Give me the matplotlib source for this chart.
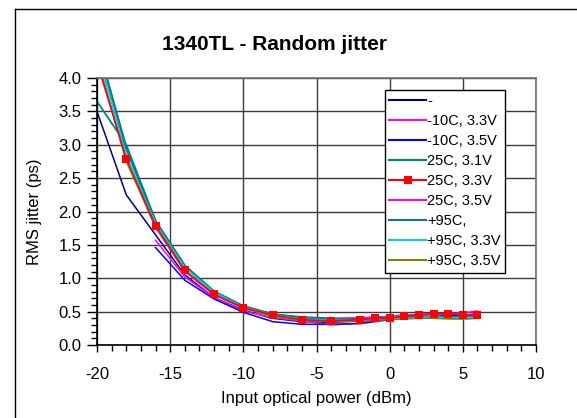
import matplotlib
matplotlib.use("Agg")
import matplotlib.pyplot as plt
from matplotlib.lines import Line2D
import numpy as np

plt.rcParams['font.family'] = ['Liberation Sans', 'DejaVu Sans']

x_full = [-20, -18, -16, -14, -12, -10, -8, -6, -4, -2, -1, 0, 1, 2, 3, 4, 5, 6]
x_from16 = [-16, -14, -12, -10, -8, -6, -4, -2, -1, 0, 1, 2, 3, 4, 5, 6]

m10_31 = [3.50, 2.25, 1.65, 1.05, 0.71, 0.52, 0.40, 0.35, 0.34, 0.36, 0.38, 0.39, 0.41, 0.42, 0.43, 0.44, 0.43, 0.44]
m10_33 = [1.57, 1.02, 0.71, 0.51, 0.41, 0.36, 0.30, 0.33, 0.37, 0.39, 0.42, 0.44, 0.46, 0.46, 0.45, 0.47]
m10_35 = [1.46, 0.97, 0.69, 0.49, 0.35, 0.31, 0.31, 0.32, 0.35, 0.38, 0.40, 0.41, 0.42, 0.43, 0.43, 0.44]
p25_31 = [3.65, 3.00, 1.86, 1.19, 0.80, 0.58, 0.46, 0.42, 0.40, 0.40, 0.41, 0.41, 0.42, 0.42, 0.43, 0.42, 0.42, 0.43]
p25_33 = [4.23, 2.79, 1.79, 1.12, 0.76, 0.56, 0.45, 0.38, 0.36, 0.38, 0.40, 0.40, 0.43, 0.45, 0.47, 0.47, 0.45, 0.45]
p25_35 = [4.30, 2.78, 1.76, 1.10, 0.75, 0.55, 0.44, 0.41, 0.39, 0.41, 0.42, 0.43, 0.45, 0.46, 0.47, 0.47, 0.48, 0.51]
p95_31 = [4.52, 2.95, 1.85, 1.18, 0.80, 0.58, 0.46, 0.40, 0.38, 0.38, 0.39, 0.40, 0.41, 0.41, 0.42, 0.41, 0.40, 0.41]
p95_33 = [4.40, 2.85, 1.82, 1.16, 0.79, 0.57, 0.45, 0.39, 0.37, 0.37, 0.38, 0.39, 0.40, 0.41, 0.42, 0.41, 0.41, 0.42]
p95_35 = [4.30, 2.75, 1.77, 1.11, 0.76, 0.55, 0.43, 0.37, 0.35, 0.36, 0.37, 0.38, 0.39, 0.40, 0.40, 0.39, 0.39, 0.40]

labels = ["-", "-10C, 3.3V", "-10C, 3.5V", "25C, 3.1V", "25C, 3.3V",
          "25C, 3.5V", "+95C,", "+95C, 3.3V", "+95C, 3.5V"]

x_ticks = [-20, -15, -10, -5, 0, 5, 10]
y_ticks = [0.0, 0.5, 1.0, 1.5, 2.0, 2.5, 3.0, 3.5, 4.0]

W, H = 577, 418
fig = plt.figure(figsize=(W / 100, H / 100), dpi=100)
fig.patch.set_facecolor('white')
# outer chart frame (left and top edges visible)
fig.add_artist(Line2D([14.5 / W, 14.5 / W], [0, 1 - 8.5 / H], transform=fig.transFigure,
                      color='black', linewidth=1.0))
fig.add_artist(Line2D([14.5 / W, 1], [1 - 8.5 / H, 1 - 8.5 / H], transform=fig.transFigure,
                      color='black', linewidth=1.0))

ax = fig.add_axes([97 / W, 1 - 345 / H, (536 - 97) / W, (345 - 78) / H])

lw = 1.1
ax.plot(x_full, m10_31, color='#000080', lw=lw, label=labels[0])
ax.plot(x_from16, m10_33, color='#FF00FF', lw=lw, label=labels[1])
ax.plot(x_from16, m10_35, color='#0000FF', lw=lw, label=labels[2])
ax.plot(x_full, p25_31, color='#008080', lw=1.3, label=labels[3])
ax.plot(x_full, p25_35, color='#FF00FF', lw=lw, label=labels[5])
ax.plot(x_full, p95_31, color='#008080', lw=1.8, label=labels[6])
ax.plot(x_full, p95_33, color='#00CCFF', lw=lw, label=labels[7])
ax.plot(x_full, p95_35, color='#808000', lw=lw, label=labels[8])
ax.plot(x_full, p25_33, color='#FF0000', lw=lw, marker='s', markersize=6,
        markeredgewidth=0, label=labels[4])

ax.set_xlim(-20, 10)
ax.set_ylim(0, 4.0)
ax.set_xticks(x_ticks)
ax.set_yticks(y_ticks)
ax.set_xticklabels([str(v) for v in x_ticks])
ax.set_yticklabels([f"{v:.1f}" for v in y_ticks])
ax.set_xticks(np.arange(-20, 11, 1), minor=True)
ax.set_yticks(np.arange(0, 4.01, 0.1), minor=True)
ax.tick_params(axis='x', which='major', direction='out', length=5, width=1,
               labelsize=12, color='black', pad=11)
ax.tick_params(axis='y', which='major', direction='out', length=7, width=1,
               labelsize=12, color='black', pad=4)
ax.tick_params(axis='both', which='minor', direction='out', length=4, width=1, color='black')
ax.grid(True, which='major', color='#3a3a3a', linewidth=1.0)
ax.set_axisbelow(True)
for s in ax.spines.values():
    s.set_color('#707070')
    s.set_linewidth(1.2)
ax.spines['left'].set_color('black')
ax.spines['bottom'].set_color('black')

ax.set_xlabel("Input optical power (dBm)", fontsize=12)
ax.xaxis.set_label_coords((316 - 97) / (536 - 97), -(399 - 345) / (345 - 78), transform=ax.transAxes)
ax.xaxis.label.set_va('center')
ax.set_ylabel("RMS jitter (ps)", fontsize=12)
ax.yaxis.set_label_coords(-(97 - 35) / (536 - 97), 0.5, transform=ax.transAxes)
ax.yaxis.label.set_va('center')

fig.text(274 / W, 1 - 45 / H, "1340TL - Random jitter", fontsize=15,
         fontweight='bold', ha='center', va='center')

h, l = ax.get_legend_handles_labels()
order = [labels.index(t) for t in l]
pairs = sorted(zip(order, h, l))
leg = ax.legend([p[1] for p in pairs], [p[2] for p in pairs],
                loc='upper left', bbox_to_anchor=(385 / W, 1 - 90 / H),
                bbox_transform=fig.transFigure, borderaxespad=0,
                fontsize=10.5, handlelength=2.5, handletextpad=0.1,
                labelspacing=0.41, borderpad=0.3, fancybox=False,
                framealpha=1, edgecolor='black', markerscale=0.9)
leg.get_frame().set_linewidth(1.0)
for ln in leg.get_lines():
    ln.set_linewidth(1.5)

fig.savefig("out.png", dpi=100, facecolor='white')
